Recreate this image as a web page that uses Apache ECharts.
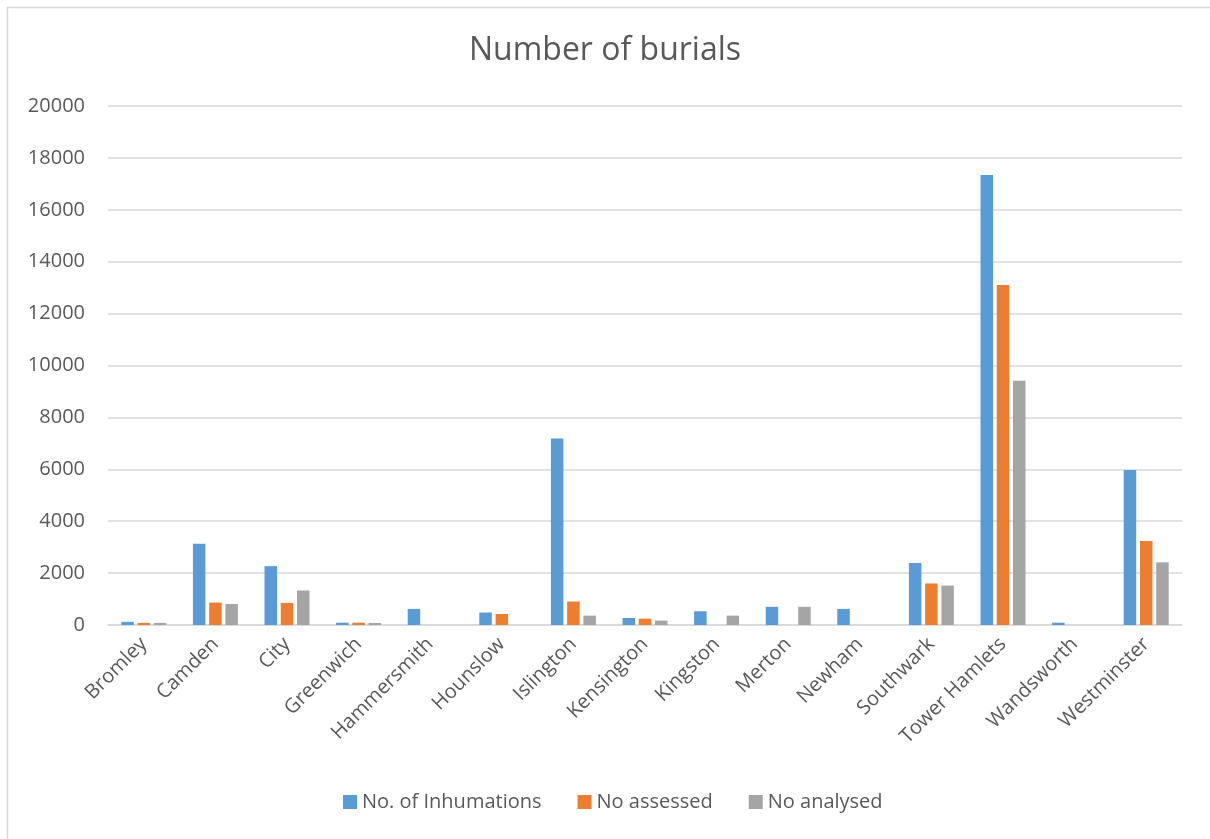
<!DOCTYPE html>
<html>
<head>
<meta charset="utf-8">
<script src="https://cdn.jsdelivr.net/npm/echarts@6/dist/echarts.min.js"></script>
<style>
html,body{margin:0;padding:0;background:#fff;}
#c{width:1210px;height:839px;}
</style>
</head>
<body>
<div id="c"></div>
<script>
const categories = ['Bromley','Camden','City','Greenwich','Hammersmith','Hounslow','Islington','Kensington','Kingston','Merton','Newham','Southwark','Tower Hamlets','Wandsworth','Westminster'];
const inhumations = [120, 3130, 2270, 90, 620, 480, 7190, 270, 530, 700, 620, 2390, 17340, 90, 5975];
const assessed    = [80, 865, 850, 90, 0, 425, 905, 245, 0, 0, 0, 1600, 13100, 0, 3235];
const analysed    = [80, 810, 1330, 77, 0, 0, 360, 170, 360, 700, 0, 1520, 9410, 0, 2415];
const seriesNames = ['No. of Inhumations','No assessed','No analysed'];
const colors = ['#5B9BD5','#ED7D31','#A5A5A5'];

const font = '"Open Sans", sans-serif';
const chart = echarts.init(document.getElementById('c'));
const mk = (name, data, color) => ({
  name, type: 'bar', data, barWidth: 12.5, barGap: '30%',
  itemStyle: { color }
});
chart.setOption({
  animation: false,
  textStyle: { fontFamily: font },
  title: {
    text: 'Number of burials', left: 'center', top: 30,
    textStyle: { fontFamily: font, fontSize: 32, fontWeight: 'normal', color: '#595959' }
  },
  legend: {
    bottom: 22, left: 338, itemWidth: 14, itemHeight: 14, itemGap: 36,
    icon: 'rect',
    textStyle: { fontFamily: font, fontSize: 20, color: '#595959', padding: [0,0,0,0] },
    data: seriesNames
  },
  grid: { left: 108, right: 28, top: 106, bottom: 214 },
  xAxis: {
    type: 'category', data: categories,
    axisLine: { lineStyle: { color: '#D9D9D9', width: 1.5 } },
    axisTick: { show: false },
    axisLabel: { rotate: 45, interval: 0, fontFamily: font, fontSize: 20, color: '#595959', margin: 16 }
  },
  yAxis: {
    type: 'value', min: 0, max: 20000, interval: 2000,
    axisLine: { show: false }, axisTick: { show: false },
    splitLine: { lineStyle: { color: '#D9D9D9', width: 1.5 } },
    axisLabel: { fontFamily: font, fontSize: 20, color: '#595959', margin: 23, formatter: v => String(v) }
  },
  graphic: [
    { type: 'line', shape: { x1: 7, y1: 7.5, x2: 1210, y2: 7.5 }, style: { stroke: '#D9D9D9', lineWidth: 1.5 } },
    { type: 'line', shape: { x1: 7.5, y1: 7, x2: 7.5, y2: 839 }, style: { stroke: '#D9D9D9', lineWidth: 1.5 } }
  ],
  series: [
    mk(seriesNames[0], inhumations, colors[0]),
    mk(seriesNames[1], assessed, colors[1]),
    mk(seriesNames[2], analysed, colors[2])
  ]
});
</script>
</body>
</html>
